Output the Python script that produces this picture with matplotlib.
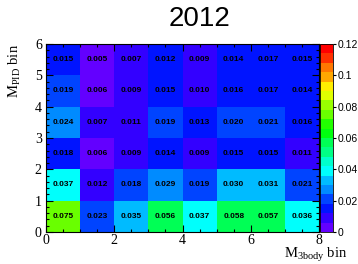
import colorsys
import numpy as np
import matplotlib
matplotlib.use("Agg")
import matplotlib.pyplot as plt
from matplotlib.colors import ListedColormap, BoundaryNorm
from matplotlib.ticker import MultipleLocator, FuncFormatter

plt.rcParams['mathtext.fontset'] = 'custom'
plt.rcParams['mathtext.rm'] = 'Liberation Serif'
plt.rcParams['mathtext.it'] = 'Liberation Serif:italic'

# data: rows from y-bin 0 (bottom) to y-bin 5 (top), columns x-bin 0..7
x_edges = [0, 1, 2, 3, 4, 5, 6, 7, 8]
y_edges = [0, 1, 2, 3, 4, 5, 6]
row0 = [0.075, 0.023, 0.035, 0.056, 0.037, 0.058, 0.057, 0.0361]
row1 = [0.037, 0.0118, 0.0181, 0.029, 0.019, 0.0301, 0.031, 0.021]
row2 = [0.0178, 0.0058, 0.009, 0.014, 0.009, 0.015, 0.015, 0.011]
row3 = [0.0241, 0.007, 0.011, 0.019, 0.013, 0.020, 0.021, 0.016]
row4 = [0.019, 0.0058, 0.009, 0.015, 0.010, 0.016, 0.017, 0.014]
row5 = [0.015, 0.005, 0.007, 0.0121, 0.009, 0.014, 0.017, 0.015]
values = np.array([row0, row1, row2, row3, row4, row5])

zmin, zmax, ncont = 0.0, 0.12, 20
cbar_ticks = [0, 0.02, 0.04, 0.06, 0.08, 0.10, 0.12]

# ROOT "pretty" palette (50 colours, violet -> red), sampled for 20 contours
pal = []
for i in range(49):
    hue = 280 - (i + 1) * (280 / 50)
    pal.append(colorsys.hls_to_rgb(hue / 360.0, 0.5, 1.0))
pal.append((1.0, 0.0, 0.0))
cols = [pal[int((k + 0.99) * 50 / ncont)] for k in range(ncont)]
cmap = ListedColormap(cols)
bounds = np.linspace(zmin, zmax, ncont + 1)
norm = BoundaryNorm(bounds, cmap.N)

W, H = 358, 264
fig = plt.figure(figsize=(W / 100, H / 100), dpi=100)
ax = fig.add_axes([46 / W, 1 - 232 / H, (319 - 46) / W, (232 - 44) / H])
cax = fig.add_axes([320 / W, 1 - 232 / H, (333 - 320) / W, (232 - 44) / H])

mesh = ax.pcolormesh(x_edges, y_edges, values, cmap=cmap, norm=norm)
for j in range(values.shape[0]):
    for i in range(values.shape[1]):
        ax.text(x_edges[i] + 0.5, y_edges[j] + 0.5, f"{values[j, i]:.3f}",
                ha='center', va='center', fontsize=6, fontweight='bold',
                family='Liberation Sans', color='black')

ax.set_xlim(0, 8)
ax.set_ylim(0, 6)
ax.xaxis.set_major_locator(MultipleLocator(2))
ax.xaxis.set_minor_locator(MultipleLocator(0.5))
ax.yaxis.set_major_locator(MultipleLocator(1))
ax.yaxis.set_minor_locator(MultipleLocator(0.2))
ax.tick_params(which='both', direction='in', top=True, right=True,
               labelsize=10, width=0.8)
ax.tick_params(which='major', length=5)
ax.tick_params(which='minor', length=2.5)
ax.tick_params(axis='x', pad=1.5)
ax.tick_params(axis='y', pad=3)
for lab in ax.get_xticklabels() + ax.get_yticklabels():
    lab.set_family('Liberation Serif')
for sp in ax.spines.values():
    sp.set_linewidth(0.8)

cb = fig.colorbar(mesh, cax=cax, boundaries=bounds, ticks=cbar_ticks)
cb.outline.set_linewidth(0.6)
cax.yaxis.set_major_formatter(FuncFormatter(lambda v, p: f"{v:g}"))
cax.tick_params(which='major', direction='out', length=2.5, width=0.8,
                labelsize=7.5, pad=0.5)
cax.tick_params(which='minor', length=0)
for lab in cax.get_yticklabels():
    lab.set_family('Liberation Sans')

fig.text(200 / W, 1 - 19 / H, "2012", ha='center', va='center',
         fontsize=20, family='Liberation Sans')
fig.text(347 / W, 1 - 255 / H, r"M$_{\mathrm{3body}}$ bin", ha='right',
         va='center', fontsize=10.5, family='Liberation Serif')
fig.text(15 / W, 1 - 44 / H, r"M$_{\mathrm{PID}}$ bin", ha='center',
         va='top', rotation=90, fontsize=10.5, family='Liberation Serif')

fig.savefig("out.png", dpi=100)
